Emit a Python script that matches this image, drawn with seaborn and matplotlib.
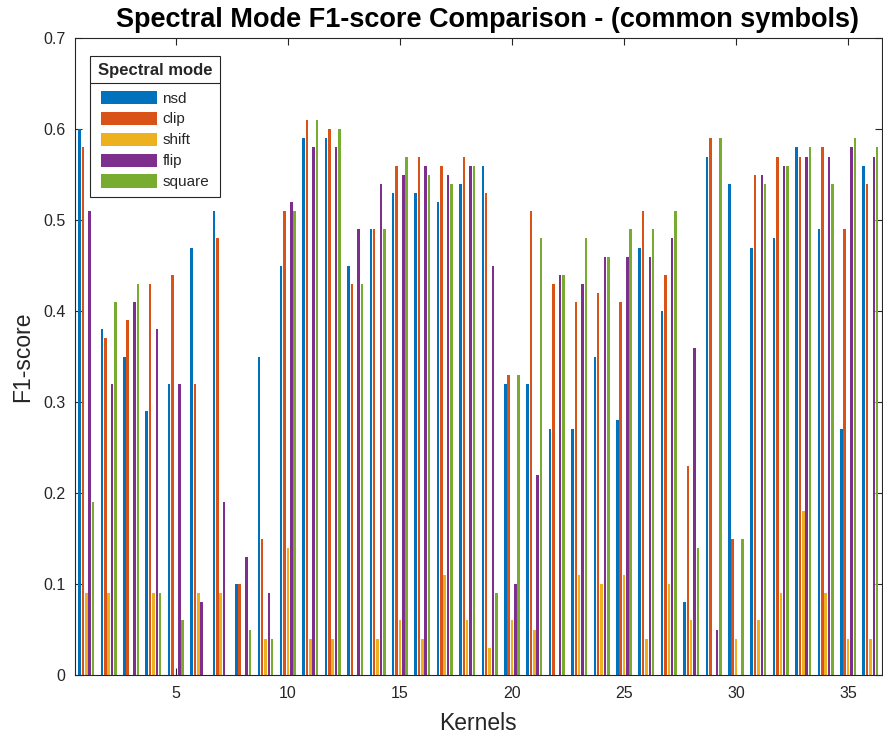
import numpy as np
import pandas as pd
import seaborn as sns
import matplotlib.pyplot as plt
from matplotlib.lines import Line2D

kernels = list(range(1, 37))
nsd = [0.60, 0.38, 0.35, 0.29, 0.32, 0.47, 0.51, 0.10, 0.35, 0.45,
       0.59, 0.59, 0.45, 0.49, 0.53, 0.53, 0.52, 0.54, 0.56, 0.32,
       0.32, 0.27, 0.27, 0.35, 0.28, 0.47, 0.40, 0.08, 0.57, 0.54,
       0.47, 0.48, 0.58, 0.49, 0.27, 0.56]
clip = [0.58, 0.37, 0.39, 0.43, 0.44, 0.32, 0.48, 0.10, 0.15, 0.51,
        0.61, 0.60, 0.43, 0.49, 0.56, 0.57, 0.56, 0.57, 0.53, 0.33,
        0.51, 0.43, 0.41, 0.42, 0.41, 0.51, 0.44, 0.23, 0.59, 0.15,
        0.55, 0.57, 0.57, 0.58, 0.49, 0.54]
shift = [0.09, 0.09, 0.00, 0.09, 0.00, 0.09, 0.09, 0.00, 0.04, 0.14,
         0.04, 0.04, 0.00, 0.04, 0.06, 0.04, 0.11, 0.06, 0.03, 0.06,
         0.05, 0.00, 0.11, 0.10, 0.11, 0.04, 0.10, 0.06, 0.00, 0.04,
         0.06, 0.09, 0.18, 0.09, 0.04, 0.04]
flip = [0.51, 0.32, 0.41, 0.38, 0.32, 0.08, 0.19, 0.13, 0.09, 0.52,
        0.58, 0.58, 0.49, 0.54, 0.55, 0.56, 0.55, 0.56, 0.45, 0.10,
        0.22, 0.44, 0.43, 0.46, 0.46, 0.46, 0.48, 0.36, 0.05, 0.00,
        0.55, 0.56, 0.57, 0.57, 0.58, 0.57]
square = [0.19, 0.41, 0.43, 0.09, 0.06, 0.00, 0.00, 0.05, 0.04, 0.51,
          0.61, 0.60, 0.43, 0.49, 0.57, 0.55, 0.54, 0.56, 0.09, 0.33,
          0.48, 0.44, 0.48, 0.46, 0.49, 0.49, 0.51, 0.14, 0.59, 0.15,
          0.54, 0.56, 0.58, 0.54, 0.59, 0.58]
modes = ["nsd", "clip", "shift", "flip", "square"]
colors = ["#0072BD", "#D95319", "#EDB120", "#7E2F8E", "#77AC30"]
y_ticks = [0, 0.1, 0.2, 0.3, 0.4, 0.5, 0.6, 0.7]
y_tick_labels = ["0", "0.1", "0.2", "0.3", "0.4", "0.5", "0.6", "0.7"]
x_ticks = [5, 10, 15, 20, 25, 30, 35]

series = {"nsd": nsd, "clip": clip, "shift": shift, "flip": flip, "square": square}
df = pd.DataFrame([
    {"Kernel": k, "Mode": m, "F1": v}
    for m in modes for k, v in zip(kernels, series[m])
])

sns.set_theme(style="white")
plt.rcParams["font.family"] = ["Liberation Sans", "DejaVu Sans"]

fig = plt.figure(figsize=(8.83, 7.4), dpi=100)
ax = fig.add_axes([0.085, 0.0878, 0.9135, 0.8604])

sns.barplot(data=df, x="Kernel", y="F1", hue="Mode", hue_order=modes,
            palette=colors, native_scale=True, width=0.75, gap=0.25,
            saturation=1, linewidth=0, errorbar=None, ax=ax)

ax.set_xlim(0.5, 36.5)
ax.set_ylim(0, 0.7)
ax.set_xticks(x_ticks)
ax.set_xticklabels([str(t) for t in x_ticks])
ax.set_yticks(y_ticks)
ax.set_yticklabels(y_tick_labels)
ax.tick_params(direction="in", length=5, width=0.8, colors="#262626",
               labelsize=11.5, top=True, right=True, bottom=True, left=True)
ax.tick_params(axis="x", pad=8)
ax.tick_params(axis="y", pad=7)
for s in ax.spines.values():
    s.set_color("#262626")
    s.set_linewidth(0.8)

ax.set_xlabel("Kernels", fontsize=16.5, color="#262626", labelpad=7.5)
ax.set_ylabel("F1-score", fontsize=16.5, color="#262626", labelpad=6)
ax.set_title("Spectral Mode F1-score Comparison - (common symbols)",
             fontsize=19.5, fontweight="bold", color="black", pad=8, x=0.511)

leg = ax.legend(title="Spectral mode", loc="upper left",
                bbox_to_anchor=(0.0186, 0.973), borderaxespad=0,
                fontsize=11,
                title_fontproperties={"weight": "bold", "size": 12},
                handlelength=3.7, handleheight=0.95, labelspacing=0.4,
                frameon=True, fancybox=False, framealpha=1,
                edgecolor="#262626", borderpad=0.5, handletextpad=0.35)
leg.get_frame().set_linewidth(0.8)
leg._legend_box.sep = 9

fig.canvas.draw()
r = fig.canvas.get_renderer()
lb = leg.get_window_extent(r)
tb = leg.get_title().get_window_extent(r)
ysep = tb.y0 - 5
inv = fig.transFigure.inverted()
(x0, y0) = inv.transform((lb.x0, ysep))
(x1, _) = inv.transform((lb.x1, ysep))
fig.add_artist(Line2D([x0, x1], [y0, y0], color="#262626", linewidth=0.8,
                      transform=fig.transFigure))

fig.savefig("out.png", dpi=100)
